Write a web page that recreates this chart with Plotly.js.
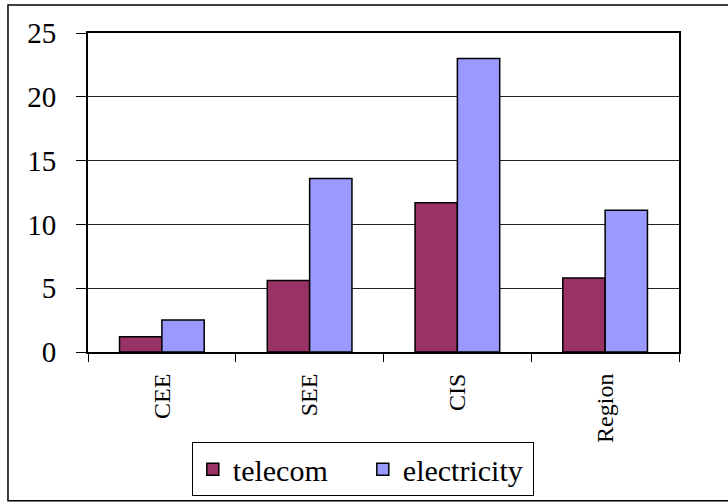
<!DOCTYPE html>
<html>
<head>
<meta charset="utf-8">
<script src="https://cdn.plot.ly/plotly-3.0.1.min.js"></script>
<style>html,body{margin:0;padding:0;background:#fff;}#chart{width:728px;height:503px;}</style>
</head>
<body>
<div id="chart"></div>
<script>
const categories = ['CEE', 'SEE', 'CIS', 'Region'];
const telecom = [1.2, 5.6, 11.7, 5.8];
const electricity = [2.5, 13.6, 23.0, 11.1];
const yTicks = [0, 5, 10, 15, 20, 25];

const serif = 'Liberation Serif, Times New Roman, serif';

const data = [
  {type: 'bar', name: 'telecom', x: categories, y: telecom,
   marker: {color: '#993366', line: {color: '#000', width: 1.5}}},
  {type: 'bar', name: 'electricity', x: categories, y: electricity,
   marker: {color: '#9999FF', line: {color: '#000', width: 1.5}}}
];

const layout = {
  width: 728, height: 503,
  margin: {l: 88, r: 49, t: 33, b: 151, pad: 0, autoexpand: false},
  paper_bgcolor: '#fff', plot_bgcolor: '#fff',
  barmode: 'group', bargap: 0.427, bargroupgap: 0,
  font: {family: serif, color: '#000'},
  showlegend: true,
  legend: {
    orientation: 'h', xref: 'paper', x: 0.465, xanchor: 'center',
    yref: 'container', y: 0.121, yanchor: 'top',
    font: {family: serif, size: 30, color: '#000'},
    bordercolor: '#000', borderwidth: 1, bgcolor: '#fff',
    itemwidth: 30, entrywidth: 125, entrywidthmode: 'pixels'
  },
  xaxis: {
    type: 'category', tickangle: -90, tickson: 'boundaries',
    ticks: 'outside', ticklen: 8, tickcolor: '#000', tickwidth: 1,
    showline: true, linecolor: '#000', linewidth: 2, mirror: true,
    showgrid: false, ticklabelstandoff: 10,
    tickfont: {family: serif, size: 24, color: '#000'}
  },
  yaxis: {
    range: [0, 25], tickvals: yTicks, ticktext: yTicks.map(String),
    ticks: 'outside', ticklen: 10, tickcolor: '#000', tickwidth: 1,
    showline: true, linecolor: '#000', linewidth: 2, mirror: true,
    showgrid: true, gridcolor: '#222', gridwidth: 1, zeroline: false,
    ticklabelstandoff: 14,
    tickfont: {family: serif, size: 29, color: '#000'}
  },
  shapes: [
    {type: 'rect', xref: 'paper', yref: 'paper',
     x0: -0.1354, x1: 1.0846, y0: -0.466, y1: 1.0878,
     line: {color: '#000', width: 1.5}, fillcolor: 'rgba(0,0,0,0)', layer: 'below'}
  ]
};

Plotly.newPlot('chart', data, layout, {displayModeBar: false, staticPlot: true});
</script>
</body>
</html>
